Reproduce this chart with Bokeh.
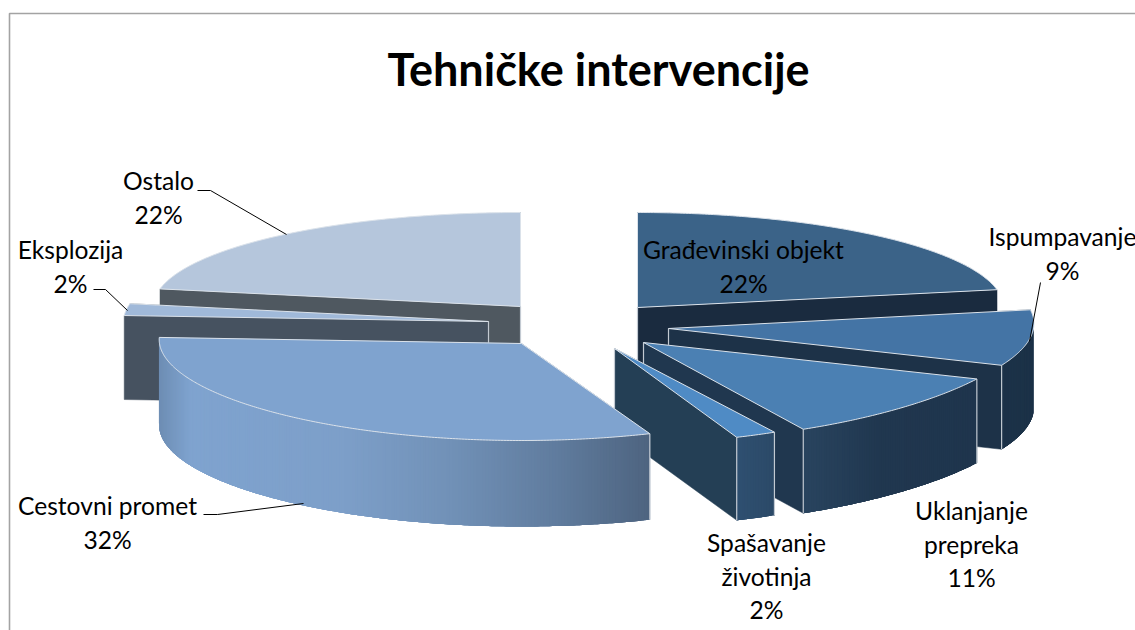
import math
from bokeh.plotting import figure
from bokeh.models import Range1d
from bokeh.core.properties import value
from bokeh.embed import file_html
from bokeh.resources import INLINE

# ---- data ----
title = "Tehničke intervencije"
categories = ["Građevinski objekt", "Ispumpavanje", "Uklanjanje prepreka", "Spašavanje životinja",
              "Cestovni promet", "Eksplozija", "Ostalo"]
shares = [22, 9, 11, 2, 32, 2, 22]
label_lines = [["Građevinski objekt"], ["Ispumpavanje"], ["Uklanjanje", "prepreka"], ["Spašavanje", "životinja"],
               ["Cestovni promet"], ["Eksplozija"], ["Ostalo"]]

# ---- styling / layout ----
top_col = ["#3b6388", "#4474a5", "#4b80b3", "#4f8bc5", "#7fa3cf", "#a0b9d9", "#b5c6dc"]
cut_col = ["#1a2b3f", "#1d3248", "#20374f", "#243f55", "#5f7c9e", "#465260", "#4f5860"]
wall_stops = [
    [(0, "#1a2b3f")],
    [(0, "#1c3248")],
    [(803, "#29445f"), (880, "#20374f"), (977, "#1f354d")],
    [(739, "#2e4f70"), (773, "#2c4a68")],
    [(158, "#6d8db3"), (190, "#7fa3cf"), (340, "#7d9fc9"), (450, "#7191b7"), (560, "#5f7b9d"), (648, "#4e6480")],
    [(0, "#465260")],
    [(0, "#4f5860")],
]
# cx, cy, rx, ry, depth, k (perspective narrowing towards the viewer)
geom = [
    (637, 307, 366, 95, 84, 0.0),
    (668, 328, 365, 100, 84, 0.05),
    (643, 342, 378, 99, 84, 0.14),
    (614, 348, 332, 95.5, 83, 0.0),
    (521, 343, 362, 97, 86, 0.04),
    (488, 321, 365, 95, 84, 0.0),
    (520, 306, 367, 94, 86, 0.0),
]
order = [6, 0, 5, 1, 2, 3, 4]
LABEL_PX = "24.6px"
FONT = "Lato"
label_pos = [(743, 249), (1062, 236), (971, 510), (766, 542), (107, 505), (70, 249), (158, 180)]
LINE_H = 33.5
leaders = [
    None,
    ([1040, 1029], [282, 341]),
    None,
    None,
    ([203, 217, 303], [514, 514, 503]),
    ([93, 105, 127], [289, 289, 310]),
    ([197, 210, 286], [190, 190, 234]),
]


def hex2rgb(h):
    return tuple(int(h[i:i + 2], 16) for i in (1, 3, 5))


def grad(stops, x):
    if len(stops) == 1 or x <= stops[0][0]:
        return stops[0][1]
    for (x0, c0), (x1, c1) in zip(stops, stops[1:]):
        if x <= x1:
            t = (x - x0) / (x1 - x0)
            a, b = hex2rgb(c0), hex2rgb(c1)
            return "#%02x%02x%02x" % tuple(round(a[i] + (b[i] - a[i]) * t) for i in range(3))
    return stops[-1][1]


def pt(g, deg):
    cx, cy, rx, ry, d, k = g
    s, c = math.sin(math.radians(deg)), math.cos(math.radians(deg))
    return cx + rx * (1 + k * c) * s, cy - ry * c


p = figure(width=1135, height=630, x_range=Range1d(0, 1135), y_range=Range1d(630, 0),
           min_border=0, toolbar_location=None, output_backend="svg",
           background_fill_color="white", border_fill_color="white", outline_line_color=None)
p.xaxis.visible = False
p.yaxis.visible = False
p.grid.visible = False

# frame
p.line([9, 9, 1135], [630, 13, 13], line_color="#a3a3a3", line_width=1.6)

# angular spans from the values
total = sum(shares)
starts, ends, acc = [], [], 0
for v in shares:
    starts.append(acc / total * 360)
    acc += v
    ends.append(acc / total * 360)

EDGE = "#dbe2ea"
for i in order:
    g = geom[i]
    cx, cy, d = g[0], g[1], g[4]
    a0, a1 = starts[i], ends[i]
    # cut faces
    cuts = [a0, a1] if a1 <= 180 else [a1, a0]
    for a in cuts:
        x, y = pt(g, a)
        p.patch([cx, x, x, cx], [cy, y, y + d, cy + d], fill_color=cut_col[i], line_color=cut_col[i], line_width=0.5)
    p.line([cx, cx], [cy, cy + d], line_color="#c3cad2", line_width=1.2)
    # outer wall: overlapping strips, painted in order, so no seams show
    w0, w1 = max(a0, 90), min(a1, 270)
    if w1 > w0:
        arc = [pt(g, w0 + (w1 - w0) * j / 48) for j in range(49)]
        p.patch([q[0] for q in arc] + [q[0] for q in reversed(arc)],
                [q[1] for q in arc] + [q[1] + d for q in reversed(arc)],
                fill_color=grad(wall_stops[i], (arc[0][0] + arc[-1][0]) / 2), line_color=None)
        n = max(2, int((w1 - w0) * 2))
        for j in range(n):
            t0 = w0 + (w1 - w0) * j / n
            t1 = min(w1, t0 + 2.0)
            seg = [pt(g, t0 + (t1 - t0) * m / 4) for m in range(5)]
            col = grad(wall_stops[i], (seg[0][0] + pt(g, w0 + (w1 - w0) * (j + 1) / n)[0]) / 2)
            p.patch([q[0] for q in seg] + [q[0] for q in reversed(seg)],
                    [q[1] for q in seg] + [q[1] + d for q in reversed(seg)],
                    fill_color=col, line_color=None)
        for a in (a0, a1):
            if 90 <= a <= 270:
                x, y = pt(g, a)
                p.line([x, x], [y, y + d], line_color="#c3cad2", line_width=1.2)
    # top
    steps = max(4, int(a1 - a0) * 2)
    xs, ys = [cx], [cy]
    for j in range(steps + 1):
        x, y = pt(g, a0 + (a1 - a0) * j / steps)
        xs.append(x)
        ys.append(y)
    p.patch(xs, ys, fill_color=top_col[i], line_color=EDGE, line_width=1.0)

# leader lines
for l in leaders:
    if l:
        p.line(l[0], l[1], line_color="black", line_width=1)

# labels
for i, lines in enumerate(label_lines):
    x, y = label_pos[i]
    for j, t in enumerate(lines + [f"{shares[i]}%"]):
        p.text([x], [y + j * LINE_H], text=[t], text_font=value(FONT), text_font_size=value(LABEL_PX),
               text_align="center", text_baseline="middle", text_color="#000000")

p.text([598], [68], text=[title], text_font=value(FONT), text_font_style="bold", text_font_size=value("45px"),
       text_align="center", text_baseline="middle", text_color="#000000")

open("out.html", "w").write(file_html(p, INLINE))
